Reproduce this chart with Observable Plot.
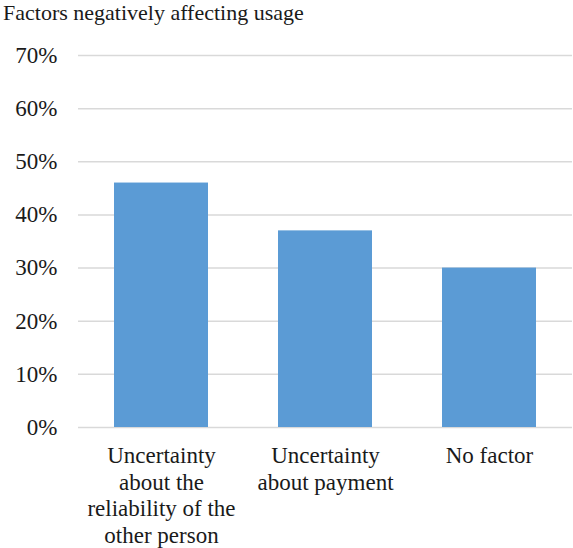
<!DOCTYPE html>
<html>
<head>
<meta charset="utf-8">
<script src="https://cdn.jsdelivr.net/npm/d3@7"></script>
<script src="https://cdn.jsdelivr.net/npm/@observablehq/plot@0.6"></script>
<style>
  html, body { margin: 0; padding: 0; background: #fff; }
  #title { font-family: "Liberation Serif", "DejaVu Serif", serif; font-size: 22px; line-height: 26px; height: 26px; padding-left: 3px; color: #1a1a1a; white-space: nowrap; }
  svg { display: block; }
</style>
</head>
<body>
<div id="title">Factors negatively affecting usage</div>
<div id="chart"></div>
<script>
const categories = [
  "Uncertainty\nabout the\nreliability of the\nother person",
  "Uncertainty\nabout payment",
  "No factor"
];
const values = [0.46, 0.37, 0.30];
const yTicks = [0, 0.1, 0.2, 0.3, 0.4, 0.5, 0.6, 0.7];

const data = categories.map((c, i) => ({category: c, value: values[i]}));

const chart = Plot.plot({
  width: 573,
  height: 522,
  marginTop: 29,
  marginBottom: 121,
  marginLeft: 78,
  marginRight: 1,
  style: {fontFamily: "'Liberation Serif', 'DejaVu Serif', serif", fontSize: "23px", color: "#1a1a1a", background: "#fff"},
  x: {domain: categories, paddingInner: 0.4286, paddingOuter: 0.2143, align: 0.5, label: null},
  y: {domain: [0, 0.7], label: null},
  marks: [
    Plot.gridY(yTicks, {stroke: "#d9d9d9", strokeOpacity: 1, strokeWidth: 1.5}),
    Plot.barY(data, {x: "category", y: "value", fill: "#5b9bd5"}),
    Plot.axisY(yTicks, {tickSize: 0, tickPadding: 21, tickFormat: d3.format(".0%"), label: null, fontSize: 23}),
    Plot.axisX({tickSize: 0, tickPadding: 17, label: null, lineHeight: 1.15, fontSize: 23})
  ]
});
document.getElementById("chart").appendChild(chart);
</script>
</body>
</html>
